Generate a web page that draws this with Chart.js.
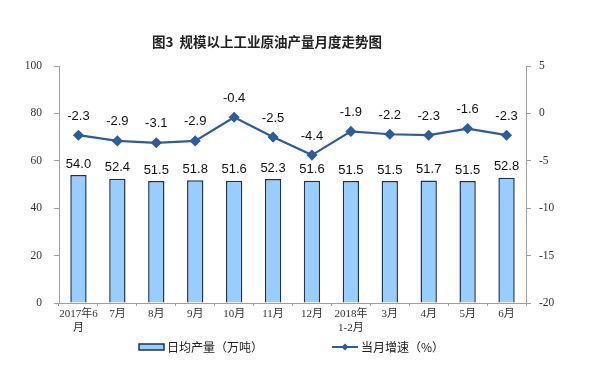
<!DOCTYPE html>
<html>
<head>
<meta charset="utf-8">
<script src="https://cdn.jsdelivr.net/npm/chart.js@4"></script>
<style>
  body { margin: 0; background: #fff; }
  #wrap { width: 590px; height: 380px; position: relative; }
</style>
</head>
<body>
<div id="wrap"><canvas id="myChart" width="590" height="380"></canvas></div>
<script>
var months = [['2017年6', '月'], '7月', '8月', '9月', '10月', '11月', '12月', ['2018年', '1-2月'], '3月', '4月', '5月', '6月'];
var dailyOutput = [54.0, 52.4, 51.5, 51.8, 51.6, 52.3, 51.6, 51.5, 51.5, 51.7, 51.5, 52.8];
var monthGrowth = [-2.3, -2.9, -3.1, -2.9, -0.4, -2.5, -4.4, -1.9, -2.2, -2.3, -1.6, -2.3];
var leftTicks = [0, 20, 40, 60, 80, 100];
var rightTicks = [-20, -15, -10, -5, 0, 5];

var titleText = '图3  规模以上工业原油产量月度走势图';
var barName = '日均产量（万吨）';
var lineName = '当月增速（%）';

var barFill = '#99ccff';
var barBorder = '#1c3350';
var lineColor = '#2e5d98';
var axisColor = '#a0a0a0';
var serif = '"Liberation Serif", "Noto Sans CJK SC", serif';
var cjk = '"Noto Sans CJK SC", sans-serif';

// titles, value labels and legend drawn by hand
var extras = {
    id: 'extras',
    afterDatasetsDraw: function (chart) {
        var c = chart.ctx;
        c.save();
        c.textAlign = 'center';
        c.textBaseline = 'middle';
        c.fillStyle = '#111';
        c.font = '13px "Liberation Sans", Arial, sans-serif';
        chart.getDatasetMeta(0).data.forEach(function (bar, i) {
            c.fillText(dailyOutput[i].toFixed(1), bar.x, bar.y - 11);
        });
        chart.getDatasetMeta(1).data.forEach(function (pt, i) {
            c.fillText(monthGrowth[i].toFixed(1), pt.x, pt.y - 19);
        });
        c.restore();
    },
    afterDraw: function (chart) {
        var c = chart.ctx;
        c.save();
        // title
        c.fillStyle = '#222';
        c.font = 'bold 13.5px ' + cjk;
        c.textAlign = 'center';
        c.textBaseline = 'middle';
        c.fillText(titleText, 267, 42);

        // legend
        var ly = 347;
        c.font = '12px ' + cjk;
        c.textAlign = 'left';
        c.fillStyle = barFill;
        c.fillRect(139, ly - 3, 25, 6);
        c.strokeStyle = barBorder;
        c.lineWidth = 1.5;
        c.strokeRect(139, ly - 3, 25, 6);
        c.fillStyle = '#222';
        c.fillText(barName, 167, ly);

        c.strokeStyle = lineColor;
        c.lineWidth = 2;
        c.beginPath();
        c.moveTo(332, ly);
        c.lineTo(358, ly);
        c.stroke();
        c.fillStyle = lineColor;
        c.beginPath();
        c.moveTo(345, ly - 3.5);
        c.lineTo(348.5, ly);
        c.lineTo(345, ly + 3.5);
        c.lineTo(341.5, ly);
        c.closePath();
        c.fill();
        c.fillStyle = '#222';
        c.fillText(lineName, 361, ly);
        c.restore();
    }
};

var ctx = document.getElementById('myChart').getContext('2d');
var chart = new Chart(ctx, {
    type: 'bar',
    data: {
        labels: months,
        datasets: [{
            type: 'bar',
            label: barName,
            data: dailyOutput,
            yAxisID: 'y',
            backgroundColor: barFill,
            borderColor: barBorder,
            borderWidth: 1.5,
            barPercentage: 0.42,
            categoryPercentage: 1,
            order: 2
        }, {
            type: 'line',
            label: lineName,
            data: monthGrowth,
            yAxisID: 'y1',
            borderColor: lineColor,
            backgroundColor: lineColor,
            borderWidth: 2.2,
            pointStyle: 'rectRot',
            pointRadius: 4,
            pointHoverRadius: 4,
            tension: 0,
            order: 1
        }]
    },
    options: {
        responsive: false,
        animation: false,
        layout: { padding: { top: 66, left: 0, right: 0, bottom: 37 } },
        plugins: {
            legend: { display: false },
            title: { display: false },
            tooltip: { enabled: false }
        },
        scales: {
            x: {
                grid: { display: true, drawOnChartArea: false, offset: true, tickLength: 3, color: axisColor },
                border: { color: axisColor },
                ticks: { color: '#333', font: { family: serif, size: 11 }, maxRotation: 0, autoSkip: false, padding: 2 },
                afterFit: function (s) { s.height = 40; }
            },
            y: {
                position: 'left',
                min: 0,
                max: 100,
                afterBuildTicks: function (s) { s.ticks = leftTicks.map(function (v) { return { value: v }; }); },
                grid: { display: true, drawOnChartArea: false, tickLength: 5, color: axisColor },
                border: { color: axisColor },
                ticks: { color: '#333', font: { family: serif, size: 11.5 }, padding: 12 },
                afterFit: function (s) { s.width = 59; }
            },
            y1: {
                position: 'right',
                min: -20,
                max: 5,
                afterBuildTicks: function (s) { s.ticks = rightTicks.map(function (v) { return { value: v }; }); },
                grid: { display: true, drawOnChartArea: false, tickLength: 5, color: axisColor },
                border: { color: axisColor },
                ticks: { color: '#333', font: { family: serif, size: 11.5 }, padding: 8 },
                afterFit: function (s) { s.width = 64; }
            }
        }
    },
    plugins: [extras]
});
</script>
</body>
</html>
